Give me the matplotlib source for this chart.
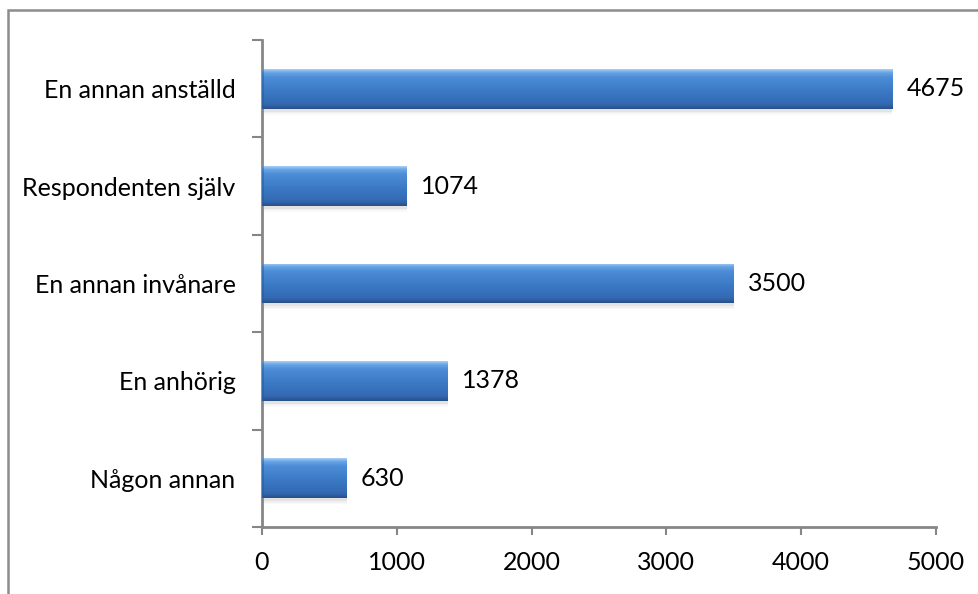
import numpy as np
import matplotlib
matplotlib.use("Agg")
import matplotlib.pyplot as plt
from matplotlib.patches import Rectangle
from matplotlib.colors import LinearSegmentedColormap

categories = ["En annan anställd", "Respondenten själv", "En annan invånare",
              "En anhörig", "Någon annan"]
values = [4675, 1074, 3500, 1378, 630]
xticks = [0, 1000, 2000, 3000, 4000, 5000]

plt.rcParams["font.family"] = ["Lato", "DejaVu Sans"]

W, H = 979, 594
fig = plt.figure(figsize=(W / 100, H / 100), dpi=100)
ax = fig.add_axes([262 / W, 1 - 527 / H, (936 - 262) / W, (527 - 40) / H])

spine_col = "#868686"
bar_h = 0.41
ypos = np.arange(len(categories))
fs = 18

# vertical shading for the bevelled bars (top -> bottom)
shade = LinearSegmentedColormap.from_list(
    "bevel",
    [(0.00, "#a9d1f7"), (0.08, "#6aa6e6"), (0.20, "#4d8dd6"),
     (0.55, "#3b79c5"), (0.88, "#3369b2"), (1.00, "#284f86")])
grad = np.linspace(0, 1, 200).reshape(-1, 1)

for y, v in zip(ypos, values):
    # soft drop shadow under each bar
    for k, a in enumerate([0.10, 0.07, 0.04]):
        ax.barh(y + 0.03 + k * 0.015, v, height=bar_h, color="#7f7f7f",
                alpha=a, linewidth=0, zorder=1)
    patch = ax.barh(y, v, height=bar_h, color="#3b78c4", linewidth=0,
                    zorder=2)[0]
    im = ax.imshow(grad, cmap=shade, aspect="auto", origin="upper",
                   extent=[0, v, y + bar_h / 2, y - bar_h / 2], zorder=3,
                   interpolation="bilinear")
    im.set_clip_path(patch)
    # darker bevel along the left end of the bar
    ax.barh(y, 18, height=bar_h, color="#2a5a9a", alpha=0.5, linewidth=0,
            zorder=3.5)
    ax.text(v + 105, y, str(v), va="center", ha="left", fontsize=fs,
            color="black", zorder=4)

ax.set_xlim(0, 5000)
ax.set_ylim(len(categories) - 0.5, -0.5)

ax.set_xticks(xticks)
ax.set_xticklabels([str(t) for t in xticks], fontsize=fs)
ax.set_yticks(ypos)
ax.set_yticklabels(categories, fontsize=fs)
ax.set_yticks(np.arange(-0.5, len(categories), 1), minor=True)

ax.tick_params(axis="y", which="major", length=0, pad=19)
ax.tick_params(axis="y", which="minor", length=7, width=1.5, color=spine_col,
               direction="out")
ax.tick_params(axis="x", which="major", length=6, width=1.5, color=spine_col,
               direction="out", pad=11)

for side in ("top", "right"):
    ax.spines[side].set_visible(False)
for side in ("left", "bottom"):
    ax.spines[side].set_color(spine_col)
    ax.spines[side].set_linewidth(2)

# outer chart frame
fig.patches.append(Rectangle((8 / W, -0.01), 1.0, 1 - 10 / H + 0.01,
                             transform=fig.transFigure, fill=False,
                             edgecolor="#8c8c8c", linewidth=1.8))

fig.savefig("out.png", dpi=100)
